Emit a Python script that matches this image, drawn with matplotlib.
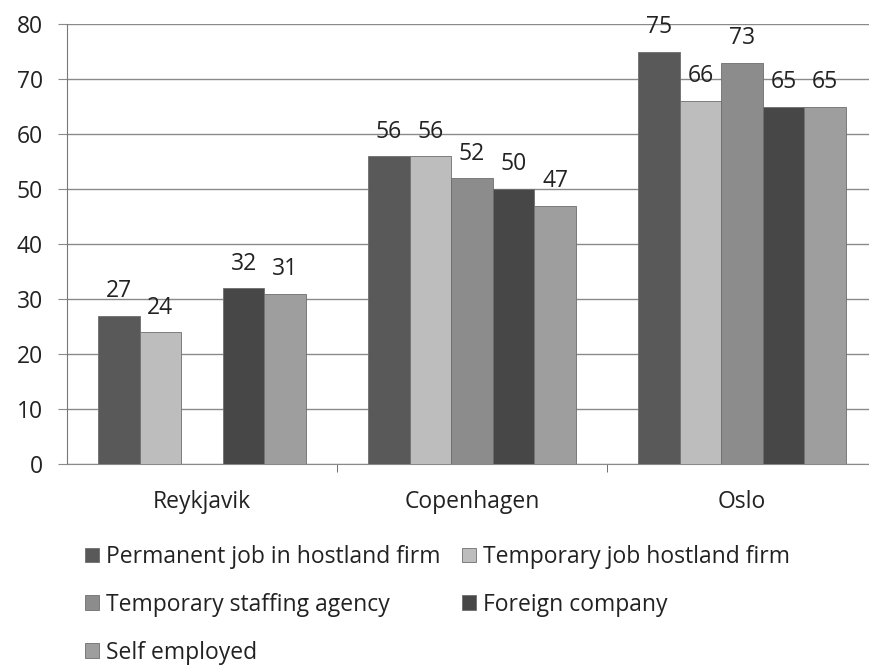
import numpy as np
import matplotlib
matplotlib.use('Agg')
import matplotlib.pyplot as plt
from matplotlib.ticker import FixedLocator

cities = ['Reykjavik', 'Copenhagen', 'Oslo']
series = ['Permanent job in hostland firm', 'Temporary job hostland firm',
          'Temporary staffing agency', 'Foreign company', 'Self employed']
permanent = [27, 56, 75]
temporary = [24, 56, 66]
staffing = [np.nan, 52, 73]
foreign = [32, 50, 65]
self_employed = [31, 47, 65]
colors = ['#595959', '#bdbdbd', '#8c8c8c', '#474747', '#9e9e9e']

plt.rcParams['font.family'] = ['Open Sans', 'DejaVu Sans']
fs = 16.5

fig = plt.figure(figsize=(8.69, 6.67), dpi=100)
ax = fig.add_axes([67 / 869, 1 - 464 / 667, 1 - 67 / 869, 440 / 667])

values = [permanent, temporary, staffing, foreign, self_employed]
x = np.arange(len(cities))
w = 0.154
handles = []
for i, (vals, name, c) in enumerate(zip(values, series, colors)):
    pos = x + (i - 2) * w
    bars = ax.bar(pos, vals, w, color=c, edgecolor='#6e6e6e', linewidth=0.6,
                  label=name, zorder=3)
    handles.append(bars)
    for p, v in zip(pos, vals):
        if not np.isnan(v):
            ax.annotate(f'{v:g}', (p, v), xytext=(0, 9), textcoords='offset points',
                        ha='center', va='bottom', fontsize=fs, color='#222222')

ax.set_ylim(0, 80)
ax.set_xlim(-0.5, 2.47)
ax.set_yticks(range(0, 81, 10))
ax.yaxis.grid(True, color='#8a8a8a', linewidth=1.0, zorder=0)
ax.set_axisbelow(True)

ax.set_xticks(x)
ax.set_xticklabels(cities)
ax.xaxis.set_minor_locator(FixedLocator([0.5, 1.5]))
ax.tick_params(axis='x', which='major', length=0, pad=18.5, labelsize=fs, colors='#222222')
ax.tick_params(axis='x', which='minor', length=6, color='#555555')
ax.tick_params(axis='y', length=6.5, color='#8a8a8a', labelsize=fs, labelcolor='#222222', pad=11)

for s in ['top', 'right']:
    ax.spines[s].set_visible(False)
ax.spines['left'].set_color('#777777')
ax.spines['bottom'].set_color('#8a8a8a')

order = [0, 2, 4, 1, 3]
leg = fig.legend([handles[i] for i in order], [series[i] for i in order],
                 ncol=2, loc='upper left', bbox_to_anchor=(85 / 869, 1 - 545 / 667),
                 frameon=False, fontsize=fs, handlelength=0.6, handleheight=0.6,
                 handletextpad=0.3, columnspacing=0.95, labelspacing=1.04,
                 borderaxespad=0, borderpad=0)
for t in leg.get_texts():
    t.set_color('#222222')

fig.savefig('out.png', dpi=100)
